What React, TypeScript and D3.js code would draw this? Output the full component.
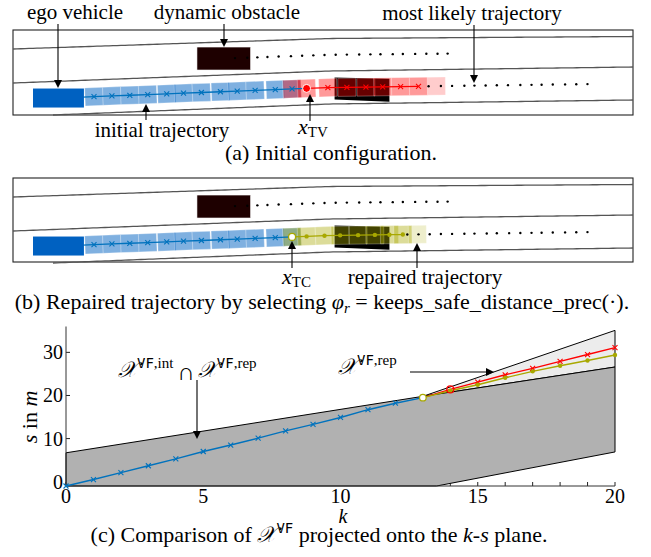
import React from "react";
import * as d3 from "d3";

// trajectories in the k-s plane (s in m)
const initialK = [0, 1, 2, 3, 4, 5, 6, 7, 8, 9, 10, 11, 12, 13];
const initialS = [-1.0, 0.5, 2.1, 3.7, 5.3, 7.0, 8.5, 10.1, 11.8, 13.3, 14.9, 16.7, 18.2, 19.5];
const likelyK = [13, 14, 15, 16, 17, 18, 19, 20];
const likelyS = [19.5, 21.4, 23.1, 24.8, 26.3, 27.9, 29.5, 31.1];
const repairedK = [13, 14, 15, 16, 17, 18, 19, 20];
const repairedS = [19.5, 21.1, 22.5, 24.1, 25.6, 26.9, 28.1, 29.4];

// bounds of the projected sets
const intUpperK = [0, 13, 20];
const intUpperS = [6.7, 19.8, 26.6];
const lowerK = [0, 13.5, 20];
const lowerS = [-1, -1, 6.9];
const repUpperK = [13, 20];
const repUpperS = [19.8, 35.1];

const xTicks = [0, 5, 10, 15, 20];
const xMinorTicks = [0, 1, 2, 3, 4, 5, 6, 7, 8, 9, 10, 11, 12, 13, 14, 15, 16, 17, 18, 19, 20];
const yTicks = [0, 10, 20, 30];

// scene, positions along the lane in m
const egoS = [-4.95, -0.4];
const obstacleS = [9.7, 14.5];
const obstacleLaterS = [22.0, 26.9];
const obstacleDotsS = [13.1, 14.2, 15.1, 16.0, 17.0, 18.1, 19.1, 20.1, 21.1, 22.1, 23.1, 24.2, 25.2, 26.1, 27.2, 28.1, 29.2, 30.2, 31.2, 32.1];
const likelyDotsA = [30.4, 31.5, 32.5, 33.6, 34.5, 35.5, 36.5, 37.5, 38.6, 39.6, 40.5, 41.5, 42.6, 43.6, 44.6];
const likelyDotsB = [28.5, 29.5, 30.5, 31.5, 32.5, 33.6, 34.5, 35.6, 36.5, 37.6, 38.6, 39.6, 40.5, 41.5, 42.6, 43.6, 44.6];

const W = 651, H = 557;
const serif = "Liberation Serif";
const mono = "DejaVu Sans Mono";
const BLUE = "#0072bd";
const EGO = "#0061c1";
const RED = "#ff0000";
const OLIVE = "#a8a800";

// road geometry (pixels)
const panelX = d3.scaleLinear().domain([0, 10]).range([88.4, 200.3]);
const roadTop = d3.scaleLinear().domain([13, 330, 633]).range([49, 38.5, 36.5]);
const roadMid = d3.scaleLinear().domain([13, 330, 633]).range([83, 71, 67]);
const roadBot = d3.scaleLinear().domain([53, 330, 633]).range([115, 104, 100]);
const lowerLane = (x: number) => (roadMid(x) + roadBot(x)) / 2;
const upperLane = (x: number) => (roadTop(x) + roadMid(x)) / 2;
const laneAngle = (x: number) => (Math.atan2(lowerLane(x + 1) - lowerLane(x - 1), 2) * 180) / Math.PI;

const cross = (x: number, y: number, r: number, color: string, key: any) => (
  <path key={key} d={`M${x - r},${y - r}L${x + r},${y + r}M${x - r},${y + r}L${x + r},${y - r}`} stroke={color} strokeWidth={1.1} fill="none" />
);

function Arrow({ x1, y1, x2, y2 }: { x1: number; y1: number; x2: number; y2: number }) {
  const a = Math.atan2(y2 - y1, x2 - x1);
  const L = 8, w = 4;
  const bx = x2 - L * Math.cos(a), by = y2 - L * Math.sin(a);
  const px = -Math.sin(a) * w, py = Math.cos(a) * w;
  return (
    <g>
      <line x1={x1} y1={y1} x2={bx} y2={by} stroke="#000" strokeWidth={1.1} />
      <path d={`M${x2},${y2}L${bx + px},${by + py}L${bx - px},${by - py}Z`} fill="#000" />
    </g>
  );
}

function T(props: any) {
  return <text fontFamily={serif} fontSize={21} {...props} />;
}

function Scene({ oy, repaired }: { oy: number; repaired: boolean }) {
  const line = d3.line<number>().x((s) => panelX(s)).y((s) => lowerLane(panelX(s)) + oy);
  const path = (xs: number[], y0: (x: number) => number) =>
    xs.map((x, i) => `${i ? "L" : "M"}${x},${y0(x) + oy}`).join("");
  const xs = d3.range(13, 634, 4);
  const square = (s: number, color: string, op: number, key: any) => {
    const x = panelX(s);
    return (
      <rect key={key} x={-9} y={-9} width={18} height={18} fill={color} fillOpacity={op}
        stroke="#fff" strokeOpacity={0.35} strokeWidth={0.8}
        transform={`translate(${x},${lowerLane(x) + oy}) rotate(${laneAngle(x)})`} />
    );
  };
  const blueEnd = repaired ? 12 : 13;
  const blueS = initialS.slice(0, blueEnd + 1);
  const tailS = repaired ? [initialS[12], ...repairedS.slice(0, 7)] : likelyS.slice(0, 7);
  const lastS = repaired ? repairedS[7] : likelyS[7];
  const squareTail = repaired ? [initialS[12], ...repairedS.slice(0, 7)] : [initialS[12], ...likelyS.slice(0, 7)];
  const tailColor = repaired ? OLIVE : RED;
  const dots = repaired ? likelyDotsB : likelyDotsA;
  const ox0 = panelX(obstacleLaterS[0]), ox1 = panelX(obstacleLaterS[1]);
  const ux0 = panelX(obstacleS[0]), ux1 = panelX(obstacleS[1]);
  const uc = upperLane((ux0 + ux1) / 2) + oy;
  const ex0 = panelX(egoS[0]), ex1 = panelX(egoS[1]);
  const ec = lowerLane((ex0 + ex1) / 2) + oy;
  return (
    <g>
      <rect x={13} y={30 + oy} width={620} height={oy ? 84 : 85} fill="none" stroke="#222" strokeWidth={1.1} />
      <path d={path(xs, roadTop)} fill="none" stroke="#555" strokeWidth={1.3} />
      <path d={path(xs, roadMid)} fill="none" stroke="#555" strokeWidth={1.3} />
      <path d={path(d3.range(53, 634, 4), roadBot)} fill="none" stroke="#555" strokeWidth={1.3} />
      {/* dynamic obstacle now and later */}
      <rect x={ux0} y={uc - 11.5} width={ux1 - ux0} height={23} fill="#1e0000" stroke="#fff" strokeWidth={0.6} />
      {obstacleDotsS.map((s, i) => (
        <circle key={i} cx={panelX(s)} cy={upperLane(panelX(s)) + oy} r={1.2} fill="#000" />
      ))}
      <path d={`M${ox0},${lowerLane(ox0) + oy - 10}L${ox1},${lowerLane(ox1) + oy - 8}L${ox1},${lowerLane(ox1) + oy + 15}L${ox0},${lowerLane(ox0) + oy + 12}Z`} fill="#000" />
      {/* occupancies */}
      {initialS.slice(1, 13).map((s, i) => square(s, EGO, 0.5, "b" + i))}
      {squareTail.map((s, i) => square(s, tailColor, 0.4, "t" + i))}
      {square(lastS, tailColor, 0.2, "last")}
      {dots.map((s, i) => (
        <circle key={i} cx={panelX(s)} cy={lowerLane(panelX(s)) + oy} r={1.2} fill="#000" />
      ))}
      {/* trajectories */}
      <path d={line(blueS) || ""} fill="none" stroke={BLUE} strokeWidth={1.3} />
      {blueS.slice(1, 13).map((s, i) => cross(panelX(s), lowerLane(panelX(s)) + oy, 2.5, BLUE, i))}
      <path d={line(repaired ? tailS : [initialS[13], ...tailS.slice(1)]) || ""} fill="none" stroke={tailColor} strokeWidth={1.3} />
      {repaired
        ? tailS.slice(1).map((s, i) => <circle key={i} cx={panelX(s)} cy={lowerLane(panelX(s)) + oy} r={2.2} fill={OLIVE} />)
        : tailS.slice(1).map((s, i) => cross(panelX(s), lowerLane(panelX(s)) + oy, 2.5, RED, i))}
      {repaired ? (
        <circle cx={panelX(initialS[12])} cy={lowerLane(panelX(initialS[12])) + oy} r={3.5} fill="#fff" stroke={OLIVE} strokeWidth={1.2} />
      ) : (
        <circle cx={panelX(initialS[13])} cy={lowerLane(panelX(initialS[13])) + oy} r={4} fill={RED} stroke="#fff" strokeWidth={1} />
      )}
      <rect x={ex0} y={ec - 9.5} width={ex1 - ex0} height={19} fill={EGO} />
    </g>
  );
}

function ChartC() {
  const x = d3.scaleLinear().domain([0, 20]).range([66, 615]);
  const y = d3.scaleLinear().domain([-1, 36]).range([486, 326.5]);
  const pts = (ks: number[], ss: number[]) => ks.map((k, i) => [x(k), y(ss[i])] as [number, number]);
  const ln = d3.line();
  const intUpper = pts(intUpperK, intUpperS);
  const lower = pts(lowerK, lowerS).reverse();
  const darkPoly = [...intUpper, ...lower];
  const lightPoly = [...pts(repUpperK, repUpperS), [x(20), y(intUpperS[2])] as [number, number]];
  return (
    <g>
      {xMinorTicks.map((t) => (
        <line key={t} x1={x(t)} x2={x(t)} y1={486} y2={482} stroke="#222" strokeWidth={1} />
      ))}
      {yTicks.map((t) => (
        <line key={t} x1={66} x2={70} y1={y(t)} y2={y(t)} stroke="#222" strokeWidth={1} />
      ))}
      <path d={ln(lightPoly) + "Z"} fill="#ececec" stroke="#000" strokeWidth={1} />
      <path d={ln(darkPoly) + "Z"} fill="#b1b1b1" stroke="#000" strokeWidth={1} />
      <line x1={66} x2={66} y1={326.5} y2={486} stroke="#333" strokeWidth={1} />
      <line x1={66} x2={615} y1={486} y2={486} stroke="#333" strokeWidth={1} />
      <path d={ln(pts(initialK, initialS)) || ""} fill="none" stroke={BLUE} strokeWidth={1.4} />
      {initialK.slice(0, 13).map((k, i) => cross(x(k), y(initialS[i]), 2.5, BLUE, k))}
      <path d={ln(pts(likelyK, likelyS)) || ""} fill="none" stroke={RED} strokeWidth={1.4} />
      {likelyK.slice(2).map((k, i) => cross(x(k), y(likelyS[i + 2]), 2.5, RED, k))}
      <path d={ln(pts(repairedK, repairedS)) || ""} fill="none" stroke={OLIVE} strokeWidth={1.4} />
      {repairedK.slice(1).map((k, i) => (
        <circle key={k} cx={x(k)} cy={y(repairedS[i + 1])} r={2.2} fill={OLIVE} />
      ))}
      <circle cx={x(likelyK[1])} cy={y(likelyS[1])} r={3.5} fill="none" stroke={RED} strokeWidth={1.2} />
      <circle cx={x(13)} cy={y(initialS[13])} r={3.3} fill="#fff" stroke={OLIVE} strokeWidth={1.2} />
      {xTicks.map((t) => (
        <T key={t} x={x(t)} y={503} textAnchor="middle" fontSize={20}>{t}</T>
      ))}
      {yTicks.map((t) => (
        <T key={t} x={63} y={y(t) + 7} textAnchor="end" fontSize={20}>{t}</T>
      ))}
      <T x={343} y={523} textAnchor="middle" fontStyle="italic" fontSize={20}>k</T>
      <T transform="translate(37,417) rotate(-90)" textAnchor="middle" fontSize={22}>
        <tspan fontStyle="italic">s</tspan> in <tspan fontStyle="italic">m</tspan>
      </T>
      <T x={118} y={377} fontSize={22}>
        <tspan fontStyle="italic">𝒳</tspan>
        <tspan dy={-9} fontSize={14} fontFamily={mono}>VF</tspan>
        <tspan fontSize={15}>,int</tspan>
        <tspan dx={4} dy={12} fontSize={24}>∩</tspan>
        <tspan dx={3} dy={-3} fontStyle="italic">𝒳</tspan>
        <tspan dy={-9} fontSize={14} fontFamily={mono}>VF</tspan>
        <tspan fontSize={15}>,rep</tspan>
      </T>
      <T x={338} y={374} fontSize={22}>
        <tspan fontStyle="italic">𝒳</tspan>
        <tspan dy={-9} fontSize={14} fontFamily={mono}>VF</tspan>
        <tspan fontSize={15}>,rep</tspan>
      </T>
      <Arrow x1={197} y1={380} x2={197} y2={439} />
      <Arrow x1={410} y1={372} x2={494} y2={372} />
    </g>
  );
}

export default function App() {
  return (
    <svg width={W} height={H} style={{ position: "absolute", left: 0, top: 0, background: "#fff" }}>
      <rect width={W} height={H} fill="#fff" />
      <Scene oy={0} repaired={false} />
      <Scene oy={148} repaired={true} />
      <ChartC />
      <T x={75} y={19} textAnchor="middle">ego vehicle</T>
      <T x={227} y={19} textAnchor="middle">dynamic obstacle</T>
      <T x={472} y={20} textAnchor="middle">most likely trajectory</T>
      <T x={162} y={137} textAnchor="middle">initial trajectory</T>
      <T x={298} y={134}>
        <tspan fontStyle="italic" fontSize={22}>x</tspan>
        <tspan dy={3} fontSize={15}>TV</tspan>
      </T>
      <T x={282} y={284}>
        <tspan fontStyle="italic" fontSize={22}>x</tspan>
        <tspan dy={3} fontSize={15}>TC</tspan>
      </T>
      <T x={425} y={284} textAnchor="middle">repaired trajectory</T>
      <T x={331} y={160} textAnchor="middle" fontSize={22}>(a) Initial configuration.</T>
      <T x={322} y={309} textAnchor="middle" fontSize={22}>
        (b) Repaired trajectory by selecting <tspan fontStyle="italic">φ</tspan>
        <tspan dy={4} fontSize={15} fontStyle="italic">r</tspan>
        <tspan dy={-4}> = keeps_safe_distance_prec(·).</tspan>
      </T>
      <T x={319} y={542} textAnchor="middle" fontSize={22}>
        (c) Comparison of <tspan fontStyle="italic">𝒳</tspan>
        <tspan dy={-9} fontSize={14} fontFamily={mono}>VF</tspan>
        <tspan dy={9}> projected onto the </tspan>
        <tspan fontStyle="italic">k</tspan>-<tspan fontStyle="italic">s</tspan> plane.
      </T>
      <Arrow x1={58} y1={24} x2={58} y2={88} />
      <Arrow x1={224} y1={24} x2={224} y2={47} />
      <Arrow x1={474} y1={25} x2={474} y2={83} />
      <Arrow x1={146} y1={120} x2={146} y2={104} />
      <Arrow x1={310} y1={121} x2={310} y2={94} />
      <Arrow x1={292} y1={268} x2={292} y2={241} />
      <Arrow x1={417} y1={268} x2={417} y2={243} />
    </svg>
  );
}
